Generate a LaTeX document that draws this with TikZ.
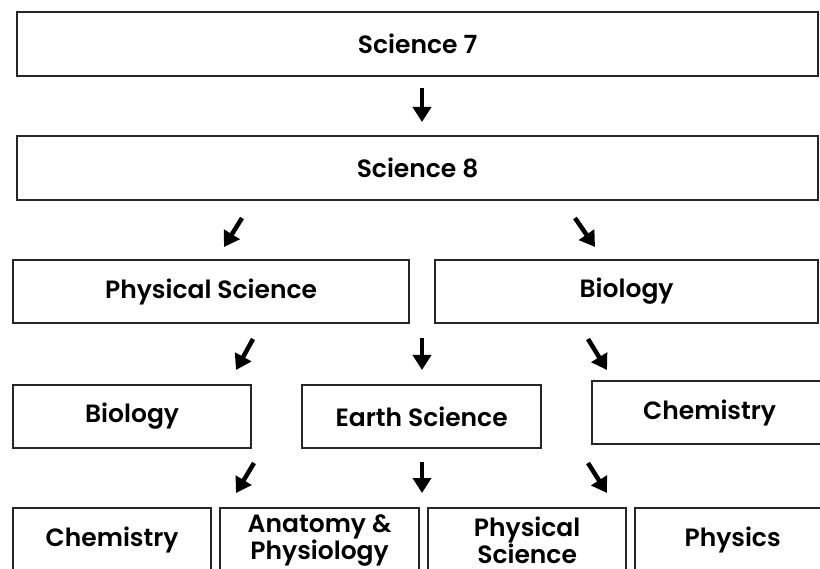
\documentclass[tikz,border=0pt]{standalone}
\usepackage{fontspec}
\setmainfont{Poppins}[BoldFont={Poppins SemiBold}]
\usetikzlibrary{positioning, arrows.meta}
\tikzset{
  course/.style={draw=black!85, line width=2.2pt, anchor=north west, align=center,
    inner sep=0pt, font=\bfseries\fontsize{25}{25.5}\selectfont},
  flow/.style={line width=4.5pt, -{Triangle[width=18pt,length=15pt]}}
}
\begin{document}
\begin{tikzpicture}[x=1pt, y=-1pt]
    \useasboundingbox (0,0) rectangle (820,569);

    \node[course, minimum width=801pt, minimum height=64pt] (sci7) at (16,11) {Science 7};
    \node[course, minimum width=801pt, minimum height=64pt] (sci8) at (16,135) {Science 8};

    \node[course, minimum width=396pt, minimum height=63pt] (phys) at (12,259) {Physical Science};
    \node[course, minimum width=383pt, minimum height=63pt] (bio) at (434,259) {Biology};

    \node[course, minimum width=238pt, minimum height=63pt] (bioB) at (12,384) {Biology};
    \node[course, minimum width=239pt, minimum height=63pt] (earth) at (301,384) {Earth Science};
    \node[course, minimum width=235pt, minimum height=63pt] (chem) at (591,380) {Chemistry};

    \node[course, minimum width=198pt, minimum height=64pt] (chemB) at (12,507) {Chemistry};
    \node[course, minimum width=199pt, minimum height=64pt] (anat) at (219,507) {Anatomy \&\\Physiology};
    \node[course, minimum width=198pt, minimum height=64pt] (physB) at (427,507) {Physical\\Science};
    \node[course, minimum width=195pt, minimum height=64pt] (physics) at (634,507) {Physics};

    % arrows between the rows
    \foreach \i/\xa/\ya/\xb/\yb in {1/422/88/422/122, 2/242/218/224/247, 3/575/218/595/247,
        4/253/339/236/370, 5/422/338/422/370, 6/588/339/607/370,
        7/254/463/236/493, 8/422/462/422/493, 9/588/463/607/493}{
      \coordinate (tail\i) at (\xa,\ya);
      \coordinate (head\i) at (\xb,\yb);
      \draw[flow] (tail\i) -- (head\i);
    }
\end{tikzpicture}
\end{document}
